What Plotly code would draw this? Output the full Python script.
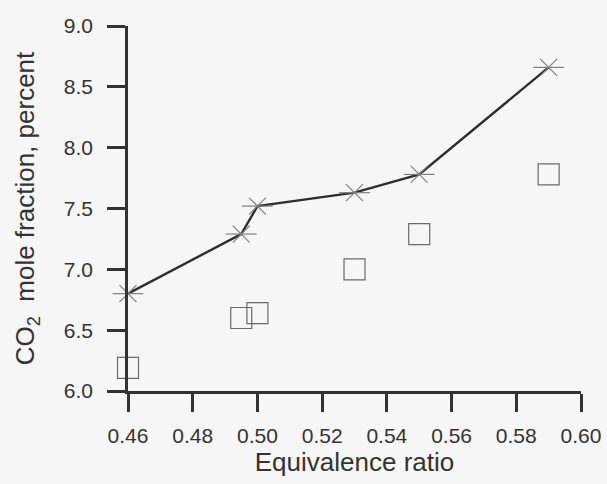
import plotly.graph_objects as go

phi_line = [0.46, 0.495, 0.50, 0.53, 0.55, 0.59]
co2_line = [6.80, 7.29, 7.52, 7.63, 7.78, 8.66]
phi_sq = [0.46, 0.495, 0.50, 0.53, 0.55, 0.59]
co2_sq = [6.19, 6.60, 6.64, 7.00, 7.29, 7.78]

x_ticks = [0.46, 0.48, 0.50, 0.52, 0.54, 0.56, 0.58, 0.60]
x_ticktext = ["0.46", "0.48", "0.50", "0.52", "0.54", "0.56", "0.58", "0.60"]
y_ticks = [6.0, 6.5, 7.0, 7.5, 8.0, 8.5, 9.0]
y_ticktext = ["6.0", "6.5", "7.0", "7.5", "8.0", "8.5", "9.0"]

fig = go.Figure()
fig.add_trace(go.Scatter(x=phi_line, y=co2_line, mode="lines",
                         line=dict(color="#2e2e2e", width=2.4), showlegend=False,
                         cliponaxis=False))
fig.add_trace(go.Scatter(x=phi_line, y=co2_line, mode="markers",
                         marker=dict(symbol="x-thin-open", size=17, color="#808080",
                                     line=dict(color="#808080", width=1.2)),
                         showlegend=False, cliponaxis=False))
fig.add_trace(go.Scatter(x=phi_line, y=co2_line, mode="markers",
                         marker=dict(symbol="line-ew-open", size=22, color="#808080",
                                     line=dict(color="#808080", width=1.2)),
                         showlegend=False, cliponaxis=False))
fig.add_trace(go.Scatter(x=phi_sq, y=co2_sq, mode="markers",
                         marker=dict(symbol="square-open", size=21, color="#6a6a6a",
                                     line=dict(color="#6a6a6a", width=1.2)),
                         showlegend=False, cliponaxis=False))

font = dict(family="Liberation Sans, Arial, sans-serif", color="#333333")
fig.update_layout(
    width=607, height=484,
    margin=dict(l=128, r=26, t=26, b=93),
    paper_bgcolor="#f6f6f6", plot_bgcolor="#f6f6f6",
    font=dict(**font, size=21),
    xaxis=dict(range=[0.46, 0.60], tickvals=x_ticks, ticktext=x_ticktext,
               showgrid=False, zeroline=False, showline=True, automargin=False,
               linecolor="#333333", linewidth=3, ticks="outside", ticklen=18,
               tickwidth=3, tickcolor="#333333", ticklabelstandoff=6,
               tickfont=dict(**font, size=21),
               title=dict(text="Equivalence ratio", font=dict(**font, size=26), standoff=5)),
    yaxis=dict(range=[6.0, 9.0], tickvals=y_ticks, ticktext=y_ticktext,
               showgrid=False, zeroline=False, showline=True, automargin=False,
               linecolor="#333333", linewidth=2.5, ticks="outside", ticklen=18,
               tickwidth=3, tickcolor="#333333", ticklabelstandoff=10,
               tickfont=dict(**font, size=21),
               title=dict(text="CO<sub>2</sub>  mole fraction, percent",
                          font=dict(**font, size=26), standoff=22)),
)
fig.write_html("out.html", config={"displayModeBar": False},
               post_script="document.body.style.margin='0';document.body.style.background='#f6f6f6';")
